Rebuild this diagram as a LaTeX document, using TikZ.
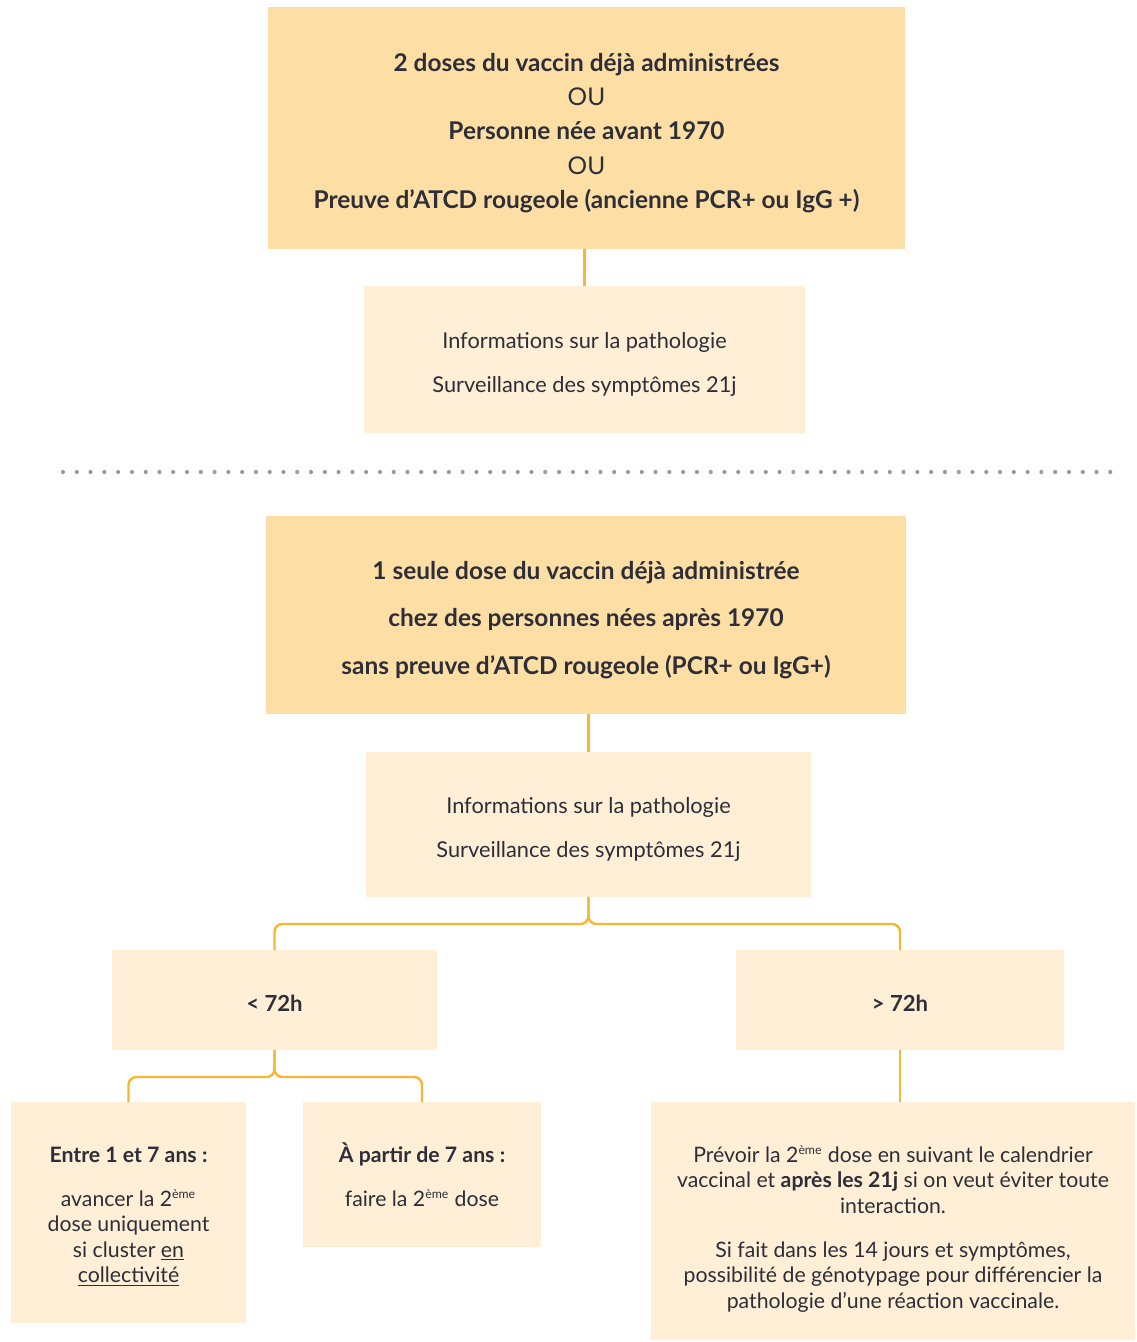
\documentclass[tikz,border=0pt]{standalone}
\usepackage{fontspec}
\setmainfont{Lato}
\definecolor{darkpeach}{HTML}{FDDFA5}
\definecolor{lightpeach}{HTML}{FEEFD6}
\definecolor{linecol}{HTML}{F8B732}
\definecolor{txt}{HTML}{2E2E38}
\definecolor{dotcol}{HTML}{9A9A9A}
\newcommand{\eme}{\textsuperscript{\scriptsize ème}}
\begin{document}
\begin{tikzpicture}[x=0.02cm,y=-0.02cm,
  basebox/.style={inner sep=0pt, outer sep=0pt},
  darkbox/.style={basebox, fill=darkpeach},
  lightbox/.style={basebox, fill=lightpeach},
  label text/.style={inner sep=0pt, align=center, text=txt, yshift=-0.1cm},
  bigtxt/.style={label text, font=\fontsize{13.9pt}{19.5pt}\selectfont},
  infotxt/.style={label text, font=\fontsize{12.4pt}{25.5pt}\selectfont},
  smalltxt/.style={label text, font=\fontsize{12.1pt}{14.5pt}\selectfont},
  conn/.style={draw=linecol, line width=1.4pt, rounded corners=4.5pt}]
\useasboundingbox (0,0) rectangle (1136,1342);

% top section
\node[darkbox, minimum width=12.74cm, minimum height=4.84cm] (b1) at (586.5,128) {};
\node[bigtxt] (b1t) at (b1.center)
  {\textbf{2 doses du vaccin déjà administrées}\\ OU\\ \textbf{Personne née avant 1970}\\ OU\\
   \textbf{Preuve d’ATCD rougeole (ancienne PCR+ ou IgG +)}};
\node[lightbox, minimum width=8.82cm, minimum height=2.94cm] (i1) at (584.5,359.5) {};
\node[infotxt] (i1t) at (i1.center)
  {Informations sur la pathologie\\ Surveillance des symptômes 21j};
\draw[conn] (b1.south -| i1.north) -- (i1.north);

% dotted separator
\foreach \i in {0,...,76} \fill[dotcol] (63+\i*13.78,472) circle[radius=0.042cm];

% bottom section
\node[darkbox, minimum width=12.8cm, minimum height=3.96cm] (b3) at (586,615) {};
\node[bigtxt, font=\fontsize{13.9pt}{27.2pt}\selectfont] (b3t) at (b3.center)
  {\textbf{1 seule dose du vaccin déjà administrée}\\ \textbf{chez des personnes nées après 1970}\\
   \textbf{sans preuve d’ATCD rougeole (PCR+ ou IgG+)}};
\node[lightbox, minimum width=8.9cm, minimum height=2.9cm] (i2) at (588.5,824.5) {};
\node[infotxt] (i2t) at (i2.center)
  {Informations sur la pathologie\\ Surveillance des symptômes 21j};
\draw[conn] (b3.south -| i2.north) -- (i2.north);

\node[lightbox, minimum width=6.5cm, minimum height=2cm] (lt) at (274.5,1000) {};
\node[label text, font=\fontsize{12.6pt}{14pt}\selectfont\bfseries, yshift=0.04cm] (ltt) at (lt.center) {< 72h};
\node[lightbox, minimum width=6.56cm, minimum height=2cm] (gt) at (900,1000) {};
\node[label text, font=\fontsize{12.6pt}{14pt}\selectfont\bfseries, yshift=0.04cm] (gtt) at (gt.center) {> 72h};

\draw[conn] (i2.south) -- ++(0,27) -| (lt.north);
\draw[conn] (i2.south) -- ++(0,27) -| (gt.north);

\node[lightbox, minimum width=4.7cm, minimum height=4.42cm] (entre) at (128.5,1212.5) {};
\node[smalltxt, yshift=0.02cm] (entret) at (entre.center)
  {\textbf{Entre 1 et 7 ans :}\\[10.5pt] avancer la 2\eme\\ dose uniquement\\ si cluster \underline{en}\\ \underline{collectivité}};
\node[lightbox, minimum width=4.76cm, minimum height=2.9cm] (apartir) at (422,1174.5) {};
\node[smalltxt, yshift=0.1cm] (apartirt) at (apartir.center)
  {\textbf{À partir de 7 ans :}\\[10.5pt] faire la 2\eme{} dose};
\node[lightbox, minimum width=9.68cm, minimum height=4.76cm] (prevoir) at (893,1221) {};
\node[smalltxt, yshift=-0.06cm] (prevoirt) at (prevoir.center)
  {Prévoir la 2\eme{} dose en suivant le calendrier\\ vaccinal et \textbf{après les 21j} si on veut éviter toute\\ interaction.\\[10.5pt]
   Si fait dans les 14 jours et symptômes,\\ possibilité de génotypage pour différencier la\\ pathologie d’une réaction vaccinale.};

\draw[conn] (lt.south) -- ++(0,27) -| (entre.north);
\draw[conn] (lt.south) -- ++(0,27) -| (apartir.north);
\draw[conn] (gt.south) -- (gt.south |- prevoir.north);
\end{tikzpicture}
\end{document}
